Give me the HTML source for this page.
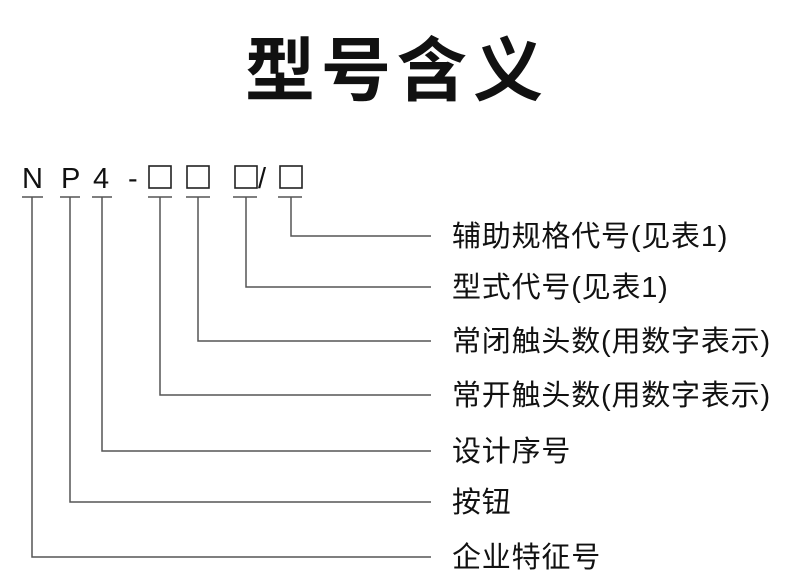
<!DOCTYPE html>
<html><head><meta charset="utf-8"><style>
body{margin:0;width:790px;height:582px;background:#fff;overflow:hidden}
svg text{font-family:"Liberation Sans","Noto Sans CJK SC",sans-serif;fill:#111}
</style></head><body>
<svg width="790" height="582" viewBox="0 0 790 582">
<text x="397" y="95" text-anchor="middle" font-size="70" font-weight="bold" style="font-family:'Noto Sans CJK SC',sans-serif;letter-spacing:6px">型号含义</text>
<g font-size="29">
<text x="22" y="188">N</text>
<text x="61" y="188">P</text>
<text x="93" y="188">4</text>
<text x="128" y="188">-</text>
<text x="258" y="188">/</text>
</g>
<g fill="none" stroke="#222" stroke-width="1.6">
<rect x="149" y="166" width="22" height="22"/>
<rect x="187" y="166" width="22" height="22"/>
<rect x="235" y="166" width="22" height="22"/>
<rect x="280" y="166" width="22" height="22"/>
</g>
<g stroke="#555" stroke-width="1.5" fill="none">
<line x1="22" y1="197" x2="43" y2="197"/>
<line x1="60" y1="197" x2="80" y2="197"/>
<line x1="92" y1="197" x2="112" y2="197"/>
<line x1="148" y1="197" x2="172" y2="197"/>
<line x1="186" y1="197" x2="210" y2="197"/>
<line x1="233" y1="197" x2="257" y2="197"/>
<line x1="278" y1="197" x2="302" y2="197"/>
<polyline points="291,197 291,236 431,236"/>
<polyline points="246,197 246,287 431,287"/>
<polyline points="198,197 198,341 431,341"/>
<polyline points="160,197 160,395 431,395"/>
<polyline points="102,197 102,451 431,451"/>
<polyline points="70,197 70,502 431,502"/>
<polyline points="32,197 32,557 431,557"/>
</g>
<g font-size="29" style="letter-spacing:0.8px">
<text x="452" y="246">辅助规格代号(见表1)</text>
<text x="452" y="297">型式代号(见表1)</text>
<text x="452" y="351">常闭触头数(用数字表示)</text>
<text x="452" y="405">常开触头数(用数字表示)</text>
<text x="452" y="461">设计序号</text>
<text x="452" y="512">按钮</text>
<text x="452" y="567">企业特征号</text>
</g>
</svg>
</body></html>
